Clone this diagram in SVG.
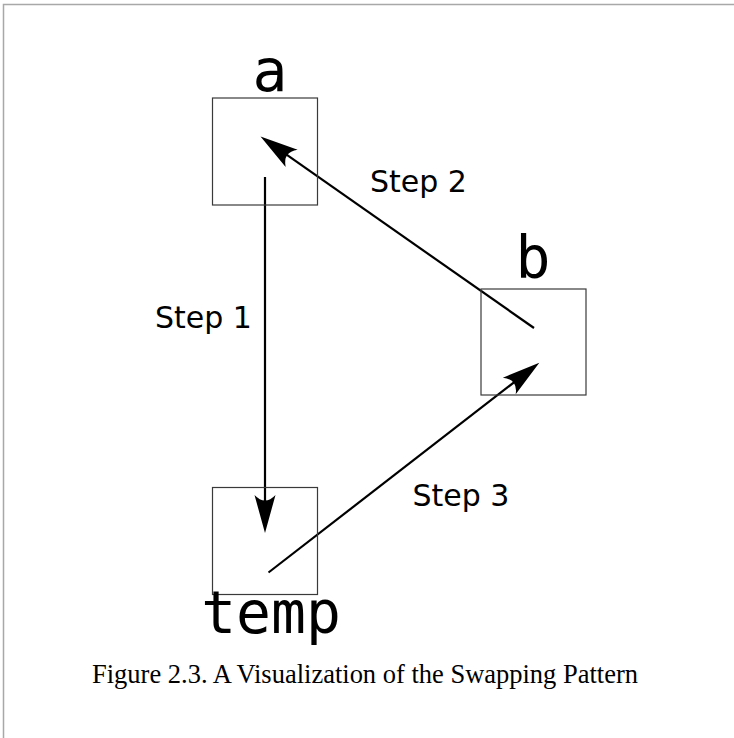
<svg xmlns="http://www.w3.org/2000/svg" width="734" height="738" viewBox="0 0 734 738">
  <style>
    .box { fill: none; stroke: #3a3a3a; stroke-width: 1.2; }
    .var { font-family: "DejaVu Sans Mono", monospace; font-size: 58px; fill: #000; text-anchor: middle; }
    .step { font-family: "DejaVu Sans", sans-serif; font-size: 30px; fill: #000; }
    .conn { stroke: #000; stroke-width: 2.2; fill: none; marker-end: url(#arrow); }
    .caption { font-family: "Liberation Serif", "Times New Roman", serif; font-size: 27px; fill: #000; text-anchor: middle; }
  </style>
  <defs>
    <marker id="arrow" markerUnits="userSpaceOnUse" orient="auto" refX="0" refY="0" markerWidth="60" markerHeight="60" overflow="visible">
      <path d="M30,0 L-8,-10.5 Q3,0 -8,10.5 Z" fill="#000"/>
    </marker>
  </defs>
  <rect width="734" height="738" fill="#fff"/>
  <path d="M3.5,738 L3.5,4.5 L734,4.5" fill="none" stroke="#a8a8a8" stroke-width="1.5"/>

  <g id="connectors">
    <line class="conn" x1="265" y1="177" x2="265" y2="503"/>
    <line class="conn" x1="534" y1="328" x2="285.1" y2="153.7"/>
    <line class="conn" x1="268.5" y1="572.5" x2="515.6" y2="381.1"/>
  </g>

  <g id="node-a">
    <rect class="box" x="212.5" y="98" width="105" height="107"/>
    <text class="var" x="270" y="91">a</text>
  </g>
  <g id="node-b">
    <rect class="box" x="481" y="289" width="105" height="106"/>
    <text class="var" x="533" y="278">b</text>
  </g>
  <g id="node-temp">
    <rect class="box" x="212.5" y="487.5" width="105" height="107"/>
    <text class="var" x="271" y="633">temp</text>
  </g>

  <g id="labels">
    <text class="step" x="155" y="328">Step 1</text>
    <text class="step" x="370" y="192">Step 2</text>
    <text class="step" x="412.5" y="506">Step 3</text>
  </g>

  <text class="caption" x="365" y="683" textLength="546" lengthAdjust="spacingAndGlyphs">Figure 2.3. A Visualization of the Swapping Pattern</text>
</svg>
